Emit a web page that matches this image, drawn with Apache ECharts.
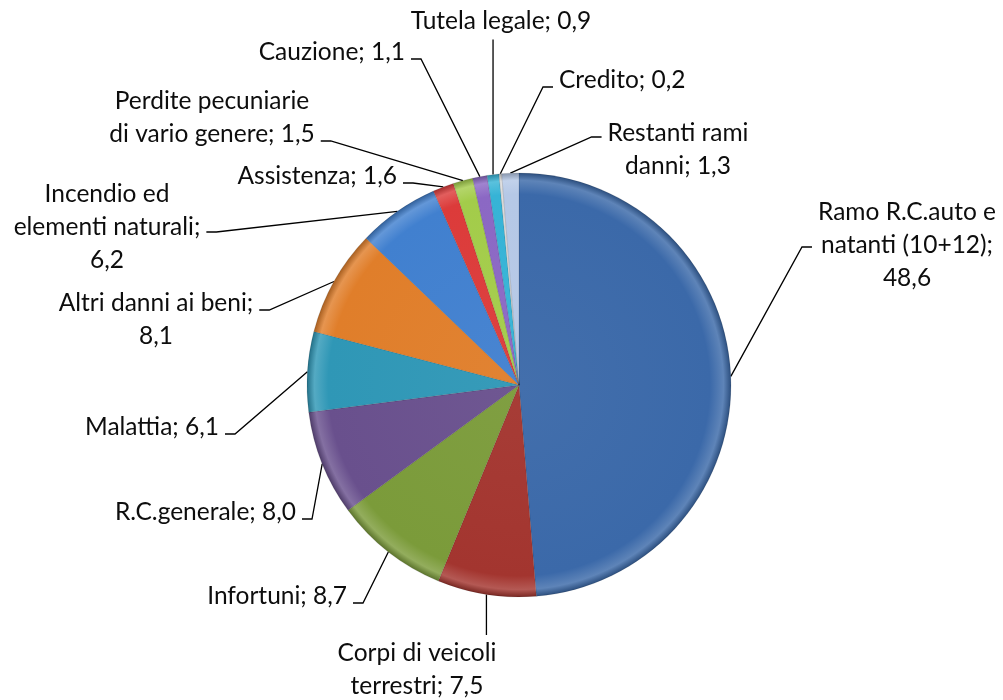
<!DOCTYPE html>
<html>
<head>
<meta charset="utf-8">
<script src="https://cdn.jsdelivr.net/npm/echarts@6/dist/echarts.min.js"></script>
<style>
  html, body { margin: 0; padding: 0; background: #fff; }
  #main { width: 1003px; height: 700px; }
</style>
</head>
<body>
<div id="main"></div>
<script>
// quote percentuali dei rami danni
var categories = ['Ramo R.C.auto e natanti (10+12)', 'Corpi di veicoli terrestri', 'Infortuni', 'R.C.generale',
  'Malattia', 'Altri danni ai beni', 'Incendio ed elementi naturali', 'Assistenza',
  'Perdite pecuniarie di vario genere', 'Cauzione', 'Tutela legale', 'Credito', 'Restanti rami danni'];
var values = [48.6, 7.5, 8.7, 8.0, 6.1, 8.1, 6.2, 1.6, 1.5, 1.1, 0.9, 0.2, 1.3];

// colori delle fette (stile Excel)
var palette = ['#3b69a9', '#a3352f', '#7b9b3a', '#69508d', '#2f97b6', '#e07e2a',
  '#4180cf', '#dc3b3a', '#a3cc4a', '#8b68c4', '#36b3d6', '#dcdcdc', '#b5c8e6'];

// posizione delle etichette: x, y, allineamento, lato del raccordo, a capo prima di ...
var labelPos = [
  { x: 907, y: 245, align: 'center', side: 'left', dy: 2, br: ['natanti', '48,6'] },
  { x: 417, y: 670, align: 'center', side: 'top', br: ['terrestri'] },
  { x: 347, y: 596, align: 'right', side: 'right' },
  { x: 296, y: 512, align: 'right', side: 'right' },
  { x: 219, y: 427, align: 'right', side: 'right' },
  { x: 156, y: 320, align: 'center', side: 'right', dy: -10, br: ['8,1'] },
  { x: 107, y: 227, align: 'center', side: 'right', dy: 5, br: ['elementi', '6,2'] },
  { x: 397, y: 176, align: 'right', side: 'right' },
  { x: 212, y: 118, align: 'center', side: 'right', dy: 23, br: ['di vario'] },
  { x: 405, y: 52, align: 'right', side: 'right' },
  { x: 501, y: 21, align: 'center', side: 'bottom' },
  { x: 559, y: 80, align: 'left', side: 'left' },
  { x: 678, y: 150, align: 'center', side: 'left', dy: -13, br: ['danni;'] }
];

var cx = 519, cy = 385, R = 212;
var gap = 6, stub = 10;

function shade(hex, k) {
  var n = parseInt(hex.slice(1), 16);
  var r = (n >> 16) & 255, g = (n >> 8) & 255, b = n & 255;
  function f(c) {
    c = k > 0 ? c + (255 - c) * k : c * (1 + k);
    return Math.round(c);
  }
  return 'rgb(' + f(r) + ',' + f(g) + ',' + f(b) + ')';
}

function bevel(col) {
  return {
    type: 'radial', x: cx, y: cy, r: R, global: true,
    colorStops: [
      { offset: 0, color: shade(col, 0.04) },
      { offset: 0.9, color: col },
      { offset: 0.965, color: shade(col, 0.18) },
      { offset: 1, color: shade(col, -0.25) }
    ]
  };
}

var pieData = values.map(function (v, i) {
  return {
    name: categories[i],
    value: v,
    itemStyle: { color: bevel(palette[i]) }
  };
});

var chart = echarts.init(document.getElementById('main'));

var option = {
  animation: false,
  series: [{
    type: 'pie',
    center: [cx, cy],
    radius: R,
    startAngle: 90,
    clockwise: true,
    emphasis: { disabled: true },
    itemStyle: {
      borderColor: 'rgba(0,0,0,0.18)',
      borderWidth: 0.6
    },
    label: {
      show: true,
      position: 'outside',
      fontFamily: 'Lato',
      fontSize: 24.5,
      lineHeight: 33,
      color: '#0d0d0d',
      formatter: function (p) {
        var t = p.name + '; ' + p.value.toFixed(1).replace('.', ',');
        var br = labelPos[p.dataIndex].br || [];
        br.forEach(function (w) { t = t.replace(' ' + w, '\n' + w); });
        return t;
      }
    },
    labelLine: {
      show: true,
      length: 10,
      length2: 10,
      lineStyle: { color: '#000', width: 1.3 }
    },
    labelLayout: function (params) {
      var c = labelPos[params.dataIndex];
      var w = params.labelRect.width, h = params.labelRect.height;
      var left = c.align === 'center' ? c.x - w / 2 : (c.align === 'right' ? c.x - w : c.x);
      var top = c.y - h / 2;
      var a = params.labelLinePoints[0];
      var sy = c.y + (c.dy != null ? c.dy : 7);
      var pts;
      if (c.side === 'right') {
        pts = [a, [left + w + gap + stub, sy], [left + w + gap, sy]];
      } else if (c.side === 'left') {
        pts = [a, [left - gap - stub, sy], [left - gap, sy]];
      } else if (c.side === 'top') {
        pts = [a, [a[0], top - 2], [a[0], top - 2]];
      } else {
        pts = [a, [a[0], top + h + 2], [a[0], top + h + 2]];
      }
      return {
        x: c.x, y: c.y, align: c.align, verticalAlign: 'middle',
        hideOverlap: false, labelLinePoints: pts
      };
    },
    data: pieData
  }]
};

chart.setOption(option);
</script>
</body>
</html>
